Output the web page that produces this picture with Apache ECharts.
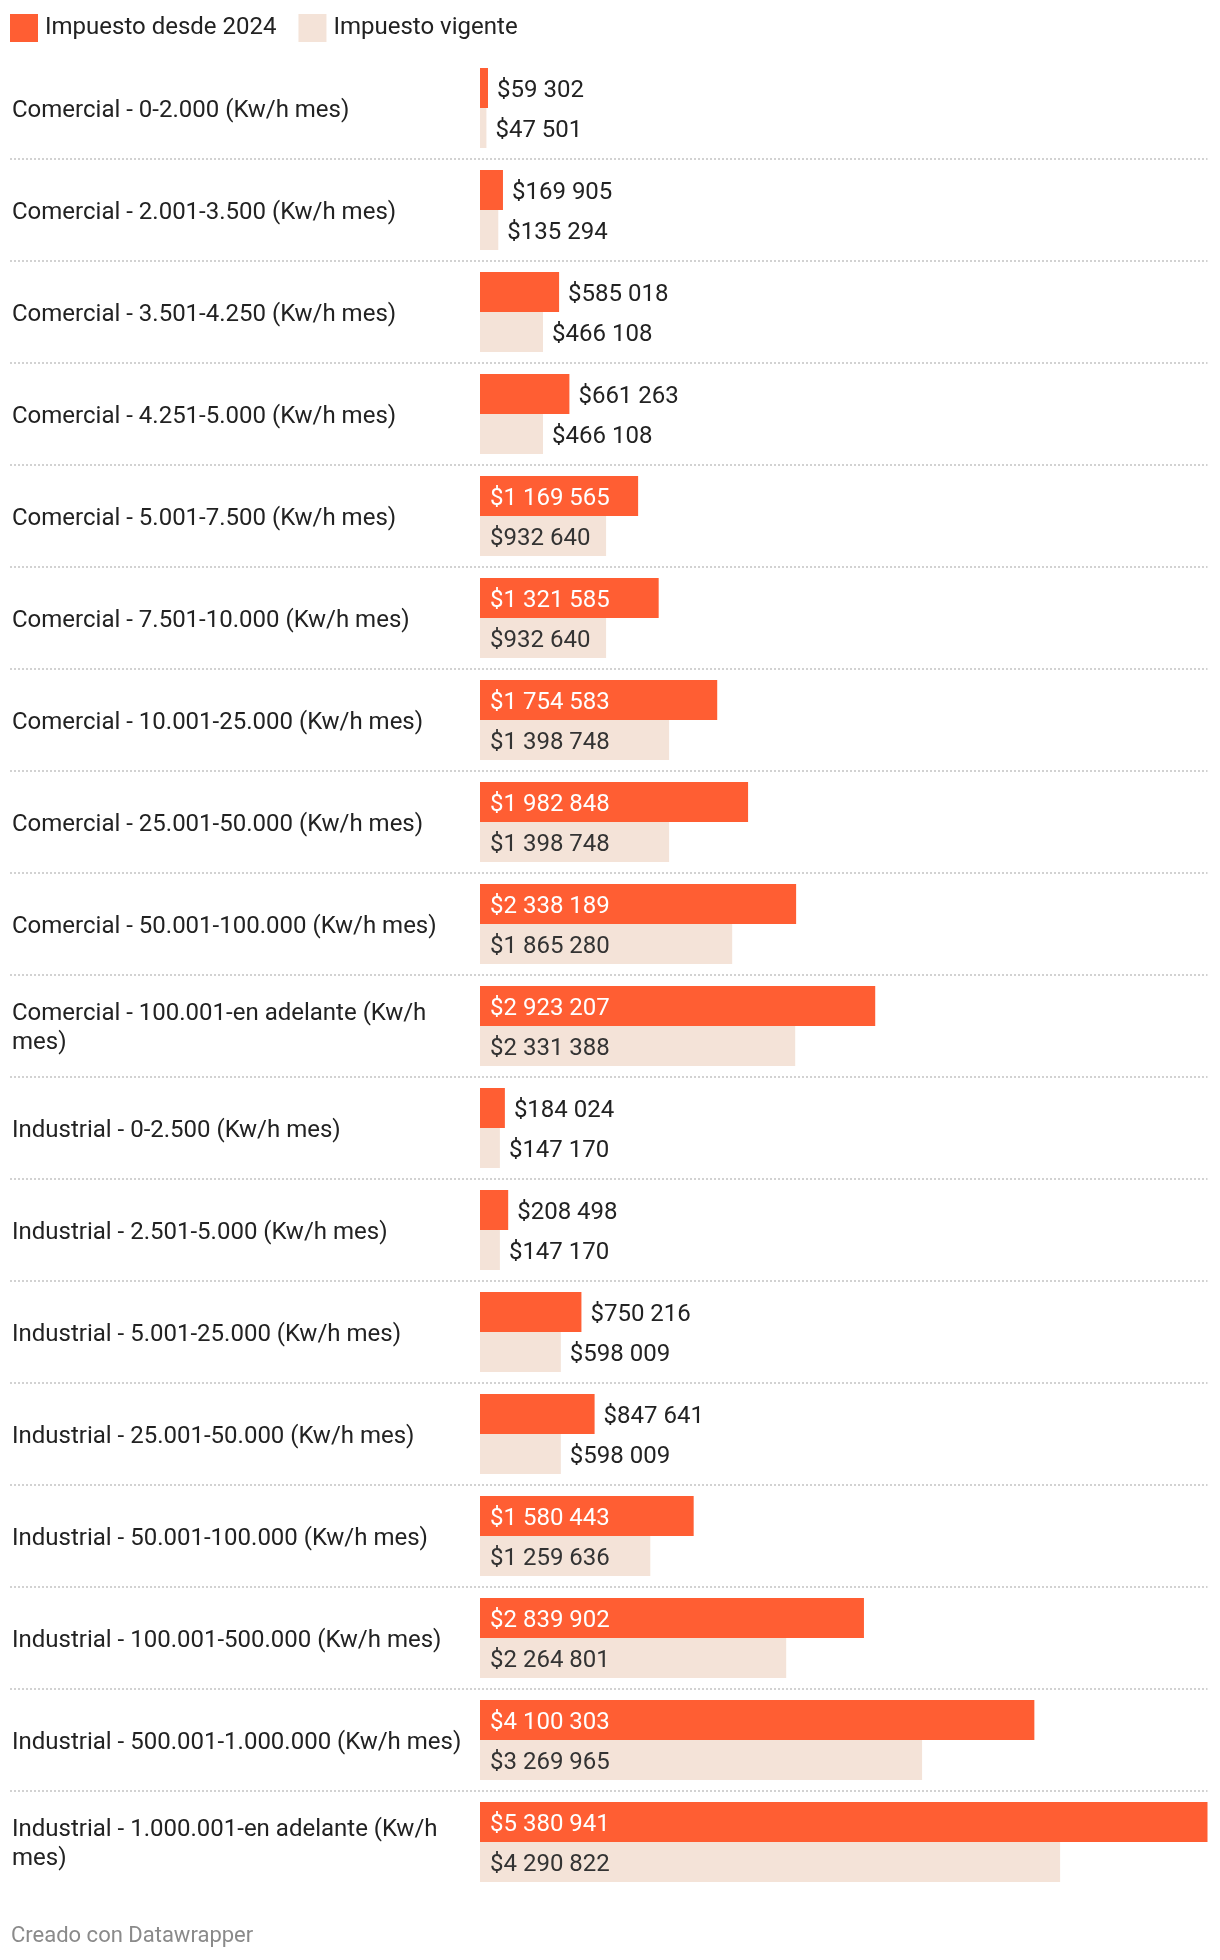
<!DOCTYPE html>
<html><head><meta charset="utf-8">
<script src="https://cdn.jsdelivr.net/npm/echarts@6.0.0/dist/echarts.min.js"></script>
<style>html,body{margin:0;padding:0;background:#fff}#c{width:1220px;height:1960px}</style>
</head><body><div id="c"></div>
<script>
const categories = [
  'Comercial - 0-2.000 (Kw/h mes)',
  'Comercial - 2.001-3.500 (Kw/h mes)',
  'Comercial - 3.501-4.250 (Kw/h mes)',
  'Comercial - 4.251-5.000 (Kw/h mes)',
  'Comercial - 5.001-7.500 (Kw/h mes)',
  'Comercial - 7.501-10.000 (Kw/h mes)',
  'Comercial - 10.001-25.000 (Kw/h mes)',
  'Comercial - 25.001-50.000 (Kw/h mes)',
  'Comercial - 50.001-100.000 (Kw/h mes)',
  'Comercial - 100.001-en adelante (Kw/h mes)',
  'Industrial - 0-2.500 (Kw/h mes)',
  'Industrial - 2.501-5.000 (Kw/h mes)',
  'Industrial - 5.001-25.000 (Kw/h mes)',
  'Industrial - 25.001-50.000 (Kw/h mes)',
  'Industrial - 50.001-100.000 (Kw/h mes)',
  'Industrial - 100.001-500.000 (Kw/h mes)',
  'Industrial - 500.001-1.000.000 (Kw/h mes)',
  'Industrial - 1.000.001-en adelante (Kw/h mes)'
];
const impuesto2024 = [59302, 169905, 585018, 661263, 1169565, 1321585, 1754583, 1982848, 2338189, 2923207,
  184024, 208498, 750216, 847641, 1580443, 2839902, 4100303, 5380941];
const impuestoVigente = [47501, 135294, 466108, 466108, 932640, 932640, 1398748, 1398748, 1865280, 2331388,
  147170, 147170, 598009, 598009, 1259636, 2264801, 3269965, 4290822];
const seriesNames = ['Impuesto desde 2024', 'Impuesto vigente'];
const footerText = 'Creado con Datawrapper';

const FONT = 'Roboto, sans-serif';
const ORANGE = '#ff5e33';
const BEIGE = '#f4e3d8';
const DARK = '#222222';
const FS = 24;
const PLOT_LEFT = 480, PLOT_RIGHT = 12.5;
const plotW = 1220 - PLOT_LEFT - PLOT_RIGHT;
const maxV = Math.max(...impuesto2024, ...impuestoVigente);

const ctx = document.createElement('canvas').getContext('2d');
ctx.font = FS + 'px Roboto';
function fmt(v) { return '$' + String(v).replace(/\B(?=(\d{3})+(?!\d))/g, ' '); }
function items(arr, insideColor) {
  return arr.map(v => {
    const w = v / maxV * plotW;
    const tw = ctx.measureText(fmt(v)).width;
    const inside = w > tw + 20;
    return {
      value: v,
      label: {
        position: inside ? 'insideLeft' : 'right',
        color: inside ? insideColor : DARK,
        distance: inside ? 10 : 9
      }
    };
  });
}

const chart = echarts.init(document.getElementById('c'), null, {renderer: 'canvas'});
const gridTop = 57, gridH = 18 * 102, labelShift = 2.5;
chart.setOption({
  animation: false,
  textStyle: {fontFamily: FONT},
  legend: {
    data: seriesNames, left: 10, top: 14, padding: 0, icon: 'rect',
    itemWidth: 28, itemHeight: 28, itemGap: 22,
    textStyle: {fontSize: FS, color: DARK, fontFamily: FONT, padding: [2, 0, 0, 2]},
    selectedMode: false
  },
  grid: [
    {left: 10, right: PLOT_RIGHT, top: gridTop, height: gridH},
    {left: 10, right: PLOT_RIGHT, top: gridTop + labelShift, height: gridH},
    {left: PLOT_LEFT, right: PLOT_RIGHT, top: gridTop, height: gridH}
  ],
  xAxis: [
    {type: 'value', gridIndex: 0, show: false},
    {type: 'value', gridIndex: 1, show: false},
    {type: 'value', gridIndex: 2, min: 0, max: 'dataMax', show: false}
  ],
  yAxis: [
    {
      type: 'category', gridIndex: 0, inverse: true, data: categories,
      axisLine: {show: false}, axisTick: {show: false}, axisLabel: {show: false},
      splitLine: {
        show: true, showMinLine: false, showMaxLine: false,
        lineStyle: {type: [2, 2], color: '#d2d2d2', width: 2}
      }
    },
    {
      type: 'category', gridIndex: 1, inverse: true, data: categories,
      axisLine: {show: false}, axisTick: {show: false}, splitLine: {show: false},
      axisLabel: {
        inside: true, margin: 2, interval: 0, fontSize: FS, color: DARK, fontFamily: FONT,
        width: 458, overflow: 'break', lineHeight: 29
      }
    },
    {type: 'category', gridIndex: 2, inverse: true, data: categories, show: false}
  ],
  series: [
    {
      name: seriesNames[0], type: 'bar', xAxisIndex: 2, yAxisIndex: 2,
      data: items(impuesto2024, '#ffffff'), barWidth: 40, barGap: '0%',
      itemStyle: {color: ORANGE},
      label: {show: true, fontSize: FS, fontFamily: FONT, offset: [0, 2.5], formatter: p => fmt(p.value)},
      emphasis: {disabled: true}
    },
    {
      name: seriesNames[1], type: 'bar', xAxisIndex: 2, yAxisIndex: 2,
      data: items(impuestoVigente, '#333333'), barWidth: 40, barGap: '0%',
      itemStyle: {color: BEIGE},
      label: {show: true, fontSize: FS, fontFamily: FONT, offset: [0, 2.5], formatter: p => fmt(p.value)},
      emphasis: {disabled: true}
    }
  ],
  graphic: [
    {type: 'text', left: 11, top: 1925, style: {text: footerText, fill: '#8a8a8a', fontSize: 22, fontFamily: FONT}}
  ]
});
</script>
</body></html>
